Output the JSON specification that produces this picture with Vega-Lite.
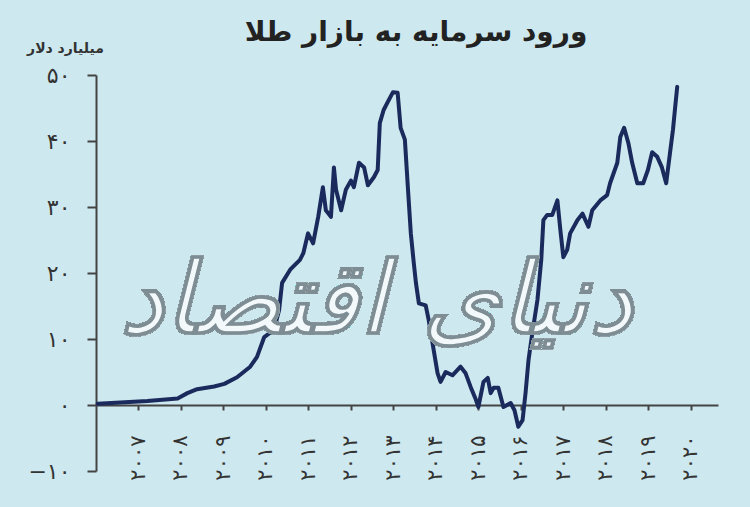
{
  "$schema": "https://vega.github.io/schema/vega-lite/v6.json",
  "autosize": "none",
  "width": 622,
  "height": 396,
  "padding": {"left": 96, "top": 75, "right": 32, "bottom": 36},
  "background": "#cde8ee",
  "title": {
    "text": "ورود سرمایه به بازار طلا",
    "anchor": "middle",
    "frame": "group",
    "dx": 9,
    "offset": -28,
    "baseline": "alphabetic",
    "font": "DejaVu Sans",
    "fontSize": 28,
    "fontWeight": "bold",
    "color": "#222222"
  },
  "data": {
    "values": [
      {"year": 2006.04, "value": 0.2},
      {"year": 2007.21, "value": 0.6},
      {"year": 2007.92, "value": 1.0},
      {"year": 2008.15, "value": 1.8},
      {"year": 2008.38, "value": 2.4},
      {"year": 2008.78, "value": 2.8},
      {"year": 2009.02, "value": 3.2},
      {"year": 2009.32, "value": 4.2},
      {"year": 2009.63, "value": 5.8},
      {"year": 2009.79, "value": 7.3},
      {"year": 2009.96, "value": 10.3},
      {"year": 2010.19, "value": 11.4},
      {"year": 2010.31, "value": 14.4},
      {"year": 2010.38, "value": 18.5},
      {"year": 2010.57, "value": 20.5},
      {"year": 2010.8, "value": 22},
      {"year": 2010.88, "value": 23},
      {"year": 2010.99, "value": 26},
      {"year": 2011.11, "value": 24.5},
      {"year": 2011.23, "value": 28.5},
      {"year": 2011.34, "value": 33},
      {"year": 2011.41, "value": 29.5},
      {"year": 2011.53, "value": 28.5},
      {"year": 2011.6, "value": 36},
      {"year": 2011.65, "value": 32.6},
      {"year": 2011.77, "value": 29.5},
      {"year": 2011.88, "value": 32.6},
      {"year": 2012.0, "value": 34},
      {"year": 2012.07, "value": 33},
      {"year": 2012.19, "value": 36.7},
      {"year": 2012.31, "value": 36},
      {"year": 2012.4, "value": 33.3},
      {"year": 2012.54, "value": 34.5},
      {"year": 2012.63, "value": 35.6},
      {"year": 2012.68, "value": 42.7},
      {"year": 2012.77, "value": 44.7},
      {"year": 2012.89, "value": 46.2},
      {"year": 2012.99, "value": 47.4},
      {"year": 2013.1, "value": 47.3},
      {"year": 2013.17, "value": 42},
      {"year": 2013.27, "value": 40.2},
      {"year": 2013.34, "value": 33},
      {"year": 2013.41, "value": 26},
      {"year": 2013.48, "value": 21.5},
      {"year": 2013.53, "value": 18.5},
      {"year": 2013.6, "value": 15.4},
      {"year": 2013.76, "value": 15.1},
      {"year": 2013.83, "value": 12.9},
      {"year": 2013.92, "value": 9.4},
      {"year": 2014.04, "value": 4.8},
      {"year": 2014.11, "value": 3.5},
      {"year": 2014.23, "value": 5},
      {"year": 2014.39, "value": 4.5},
      {"year": 2014.58, "value": 5.8},
      {"year": 2014.7, "value": 4.8},
      {"year": 2014.82, "value": 2.7},
      {"year": 2014.93, "value": 1},
      {"year": 2015.0, "value": -0.3},
      {"year": 2015.12, "value": 3.5},
      {"year": 2015.22, "value": 4.1},
      {"year": 2015.29, "value": 1.8},
      {"year": 2015.36, "value": 2.6},
      {"year": 2015.47, "value": 2.6},
      {"year": 2015.59, "value": -0.3},
      {"year": 2015.76, "value": 0.3},
      {"year": 2015.85, "value": -0.8},
      {"year": 2015.94, "value": -3.3},
      {"year": 2016.04, "value": -2.3},
      {"year": 2016.11, "value": 1.8},
      {"year": 2016.18, "value": 6.8},
      {"year": 2016.27, "value": 10.9},
      {"year": 2016.39, "value": 15.9},
      {"year": 2016.48, "value": 22},
      {"year": 2016.53, "value": 28},
      {"year": 2016.62, "value": 28.8},
      {"year": 2016.74, "value": 28.8},
      {"year": 2016.86, "value": 31},
      {"year": 2016.93, "value": 26.5},
      {"year": 2017.0, "value": 22.4},
      {"year": 2017.09, "value": 23.5},
      {"year": 2017.16, "value": 26},
      {"year": 2017.33, "value": 28},
      {"year": 2017.45, "value": 29},
      {"year": 2017.59, "value": 27},
      {"year": 2017.68, "value": 29.5},
      {"year": 2017.87, "value": 31},
      {"year": 2018.03, "value": 31.8},
      {"year": 2018.1, "value": 33.6},
      {"year": 2018.27, "value": 36.7},
      {"year": 2018.34, "value": 40.6},
      {"year": 2018.43, "value": 42},
      {"year": 2018.53, "value": 39.7},
      {"year": 2018.62, "value": 36.7},
      {"year": 2018.74, "value": 33.6},
      {"year": 2018.88, "value": 33.6},
      {"year": 2018.99, "value": 35.6},
      {"year": 2019.09, "value": 38.3},
      {"year": 2019.21, "value": 37.6},
      {"year": 2019.32, "value": 36},
      {"year": 2019.42, "value": 33.6},
      {"year": 2019.51, "value": 38.2},
      {"year": 2019.58, "value": 41.7},
      {"year": 2019.63, "value": 45},
      {"year": 2019.68, "value": 48.2}
    ]
  },
  "layer": [
    {
      "mark": {"type": "line", "color": "#1b2a5c", "strokeWidth": 4, "strokeJoin": "round", "strokeCap": "round"},
      "encoding": {
        "x": {
          "field": "year",
          "type": "quantitative",
          "scale": {"domain": [2006, 2020.64], "nice": false, "zero": false},
          "axis": {
            "title": null,
            "values": [2007, 2008, 2009, 2010, 2011, 2012, 2013, 2014, 2015, 2016, 2017, 2018, 2019, 2020],
            "format": "d",
            "offset": -66,
            "labelAngle": -90,
            "labelAlign": "right",
            "labelBaseline": "middle",
            "labelPadding": 25,
            "labelFontSize": 21,
            "labelFont": "DejaVu Sans",
            "labelColor": "#333333",
            "tickSize": 5,
            "tickWidth": 2,
            "tickColor": "#444444",
            "domainColor": "#444444",
            "domainWidth": 2,
            "grid": false
          }
        },
        "y": {
          "field": "value",
          "type": "quantitative",
          "scale": {"domain": [-10, 50], "nice": false},
          "axis": {
            "title": "میلیارد دلار",
            "titleAngle": 0,
            "titleX": -31,
            "titleY": -23,
            "titleAlign": "center",
            "titleBaseline": "alphabetic",
            "titleFont": "DejaVu Sans",
            "titleFontSize": 14,
            "titleFontWeight": "bold",
            "titleColor": "#333333",
            "values": [-10, 0, 10, 20, 30, 40, 50],
            "format": "d",
            "labelFontSize": 22,
            "labelFont": "DejaVu Sans",
            "labelColor": "#333333",
            "labelPadding": 17,
            "tickSize": 9,
            "tickWidth": 2,
            "tickColor": "#444444",
            "domainColor": "#444444",
            "domainWidth": 2,
            "grid": false
          }
        }
      }
    },
    {
      "mark": {
        "type": "text",
        "text": "دنیای اقتصاد",
        "font": "DejaVu Sans",
        "fontSize": 100,
        "fontStyle": "italic",
        "fontWeight": "bold",
        "fill": "#f2f9fb",
        "fillOpacity": 0.8,
        "stroke": "#7d8d93",
        "strokeWidth": 0.5,
        "align": "center",
        "baseline": "middle"
      },
      "encoding": {
        "x": {"datum": 2012.6},
        "y": {"datum": 15.5}
      }
    }
  ],
  "config": {
    "view": {"stroke": null},
    "locale": {
      "number": {
        "decimal": ".",
        "thousands": "",
        "grouping": [3],
        "currency": ["", ""],
        "numerals": ["۰", "۱", "۲", "۳", "۴", "۵", "۶", "۷", "۸", "۹"],
        "minus": "−"
      }
    }
  }
}
